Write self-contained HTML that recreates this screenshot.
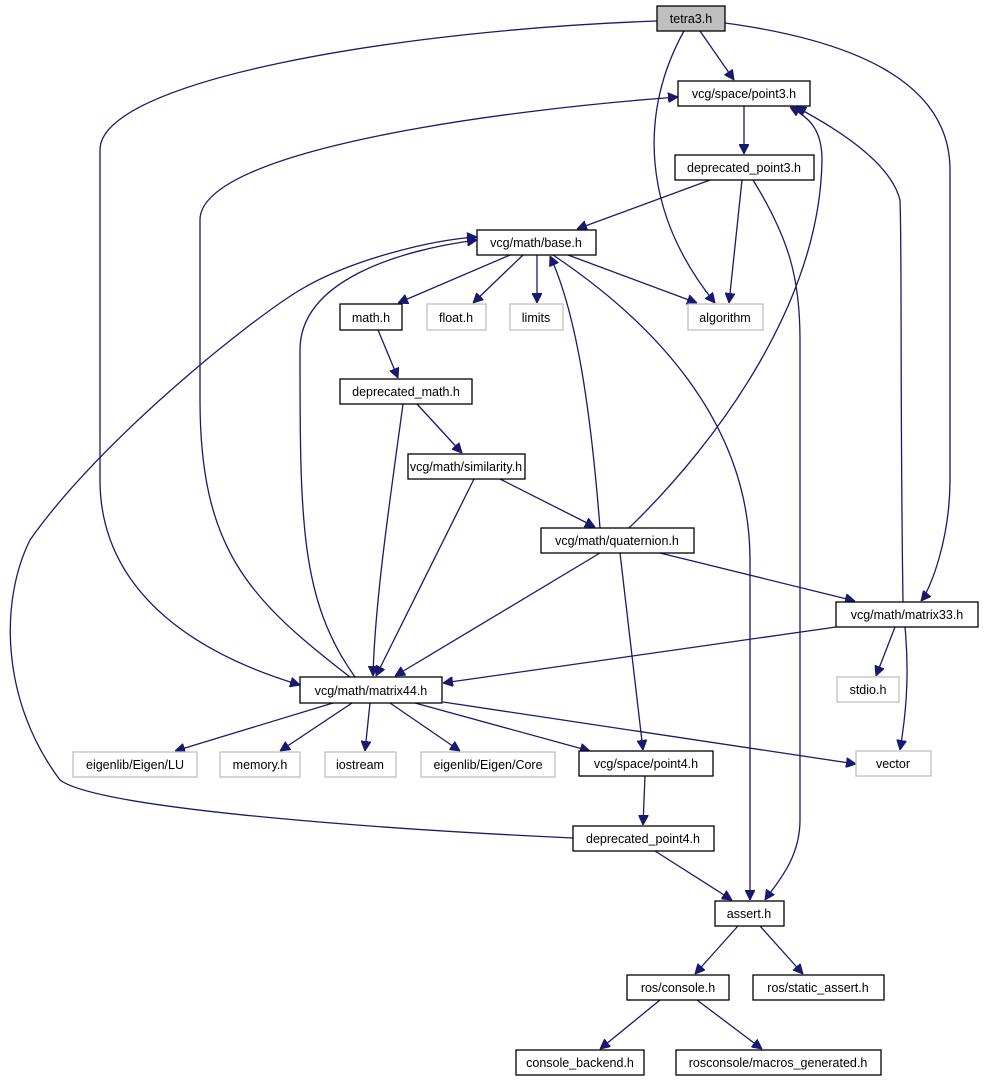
<!DOCTYPE html>
<html><head><meta charset="utf-8"><style>
html,body{margin:0;padding:0;background:#fff;}
svg{display:block;}
text{font-family:"Liberation Sans",Arial,sans-serif;font-size:12.5px;text-anchor:middle;fill:#000;}
.e{fill:none;stroke:#191970;stroke-width:1.3;}
.n{fill:#fff;stroke:#000;stroke-width:1.3;}
.g{fill:#fff;stroke:#bfbfbf;stroke-width:1.3;}
</style></head><body>
<svg width="985" height="1083" viewBox="0 0 985 1083" xmlns="http://www.w3.org/2000/svg">
<defs><marker id="a" viewBox="0 0 10 10" refX="10" refY="5" markerWidth="10" markerHeight="10" markerUnits="userSpaceOnUse" orient="auto"><path d="M0,0 L10,5 L0,10 z" fill="#191970" stroke="#191970"/></marker></defs>
<g marker-end="url(#a)">
<path class="e" d="M700,31 L734,80"/>
<path class="e" d="M684,31 C640,110 640,210 715,303"/>
<path class="e" d="M657,21 C400,30 100,80 100,150 L100,480 C100,620 250,670 300,685"/>
<path class="e" d="M725,23 C850,40 950,80 950,170 L950,480 C950,540 930,590 921,601"/>
<path class="e" d="M744,106 L744,154"/>
<path class="e" d="M710,180 L577,229"/>
<path class="e" d="M742,180 L729,303"/>
<path class="e" d="M753,180 C790,240 800,280 800,340 L800,820 C800,860 775,885 765,900"/>
<path class="e" d="M510,255 L398,303"/>
<path class="e" d="M523,255 L473,303"/>
<path class="e" d="M537,255 L537,303"/>
<path class="e" d="M568,255 L697,303"/>
<path class="e" d="M553,255 C650,320 750,420 750,560 L750,900"/>
<path class="e" d="M378,330 L398,378"/>
<path class="e" d="M417,404 L462,453"/>
<path class="e" d="M403,404 C390,500 375,600 373,676"/>
<path class="e" d="M500,479 L595,527"/>
<path class="e" d="M474,479 L376,676"/>
<path class="e" d="M629,528 C720,440 820,300 822,160 C822,130 810,118 790,107"/>
<path class="e" d="M600,528 C590,400 575,310 550,256"/>
<path class="e" d="M600,553 L395,676"/>
<path class="e" d="M620,553 L643,750"/>
<path class="e" d="M660,553 L855,601"/>
<path class="e" d="M903,602 C900,400 902,250 900,200 C890,160 830,125 796,107"/>
<path class="e" d="M836,627 L443,683"/>
<path class="e" d="M895,627 L876,676"/>
<path class="e" d="M905,627 C910,680 905,720 900,750"/>
<path class="e" d="M350,677 C250,600 200,550 200,400 L200,220 C200,150 500,110 678,97"/>
<path class="e" d="M355,677 C300,600 300,520 300,350 C300,280 400,250 477,240"/>
<path class="e" d="M333,703 L175,751"/>
<path class="e" d="M352,703 L280,751"/>
<path class="e" d="M370,703 L365,751"/>
<path class="e" d="M390,703 L460,751"/>
<path class="e" d="M415,703 L590,751"/>
<path class="e" d="M443,702 L856,764"/>
<path class="e" d="M645,776 L643,825"/>
<path class="e" d="M573,838 C400,830 100,810 60,780 C0,700 0,600 30,540 C100,440 250,320 300,290 C350,260 430,240 477,237"/>
<path class="e" d="M655,851 L732,900"/>
<path class="e" d="M738,926 L695,974"/>
<path class="e" d="M760,926 L803,974"/>
<path class="e" d="M660,1000 L600,1049"/>
<path class="e" d="M697,1000 L762,1049"/>
</g>
<rect x="657" y="6" width="68" height="25" fill="#bfbfbf" stroke="#000" stroke-width="1.3"/><text x="691" y="23">tetra3.h</text>
<rect class="n" x="678" y="81" width="132" height="25"/><text x="744" y="98">vcg/space/point3.h</text>
<rect class="n" x="675" y="155" width="139" height="25"/><text x="744" y="172">deprecated_point3.h</text>
<rect class="n" x="477" y="230" width="119" height="25"/><text x="536" y="247">vcg/math/base.h</text>
<rect class="n" x="340" y="304" width="62" height="26"/><text x="371" y="322">math.h</text>
<rect class="g" x="427" y="304" width="59" height="26"/><text x="456" y="322">float.h</text>
<rect class="g" x="510" y="304" width="53" height="26"/><text x="536" y="322">limits</text>
<rect class="g" x="688" y="304" width="75" height="26"/><text x="725" y="322">algorithm</text>
<rect class="n" x="340" y="379" width="132" height="25"/><text x="406" y="396">deprecated_math.h</text>
<rect class="n" x="408" y="454" width="117" height="25"/><text x="466" y="471">vcg/math/similarity.h</text>
<rect class="n" x="541" y="528" width="153" height="25"/><text x="617" y="545">vcg/math/quaternion.h</text>
<rect class="n" x="836" y="602" width="142" height="25"/><text x="907" y="619">vcg/math/matrix33.h</text>
<rect class="n" x="300" y="677" width="142" height="26"/><text x="371" y="695">vcg/math/matrix44.h</text>
<rect class="g" x="837" y="677" width="62" height="25"/><text x="868" y="694">stdio.h</text>
<rect class="g" x="73" y="752" width="124" height="25"/><text x="135" y="769">eigenlib/Eigen/LU</text>
<rect class="g" x="220" y="752" width="80" height="25"/><text x="260" y="769">memory.h</text>
<rect class="g" x="325" y="752" width="71" height="25"/><text x="360" y="769">iostream</text>
<rect class="g" x="421" y="752" width="134" height="25"/><text x="488" y="769">eigenlib/Eigen/Core</text>
<rect class="n" x="579" y="751" width="134" height="25"/><text x="646" y="768">vcg/space/point4.h</text>
<rect class="g" x="856" y="751" width="75" height="25"/><text x="893" y="768">vector</text>
<rect class="n" x="573" y="826" width="141" height="25"/><text x="643" y="843">deprecated_point4.h</text>
<rect class="n" x="715" y="901" width="69" height="25"/><text x="749" y="918">assert.h</text>
<rect class="n" x="627" y="975" width="102" height="25"/><text x="678" y="992">ros/console.h</text>
<rect class="n" x="753" y="975" width="131" height="25"/><text x="818" y="992">ros/static_assert.h</text>
<rect class="n" x="516" y="1050" width="128" height="25"/><text x="580" y="1067">console_backend.h</text>
<rect class="n" x="676" y="1050" width="205" height="25"/><text x="778" y="1067">rosconsole/macros_generated.h</text>
</svg>
</body></html>
